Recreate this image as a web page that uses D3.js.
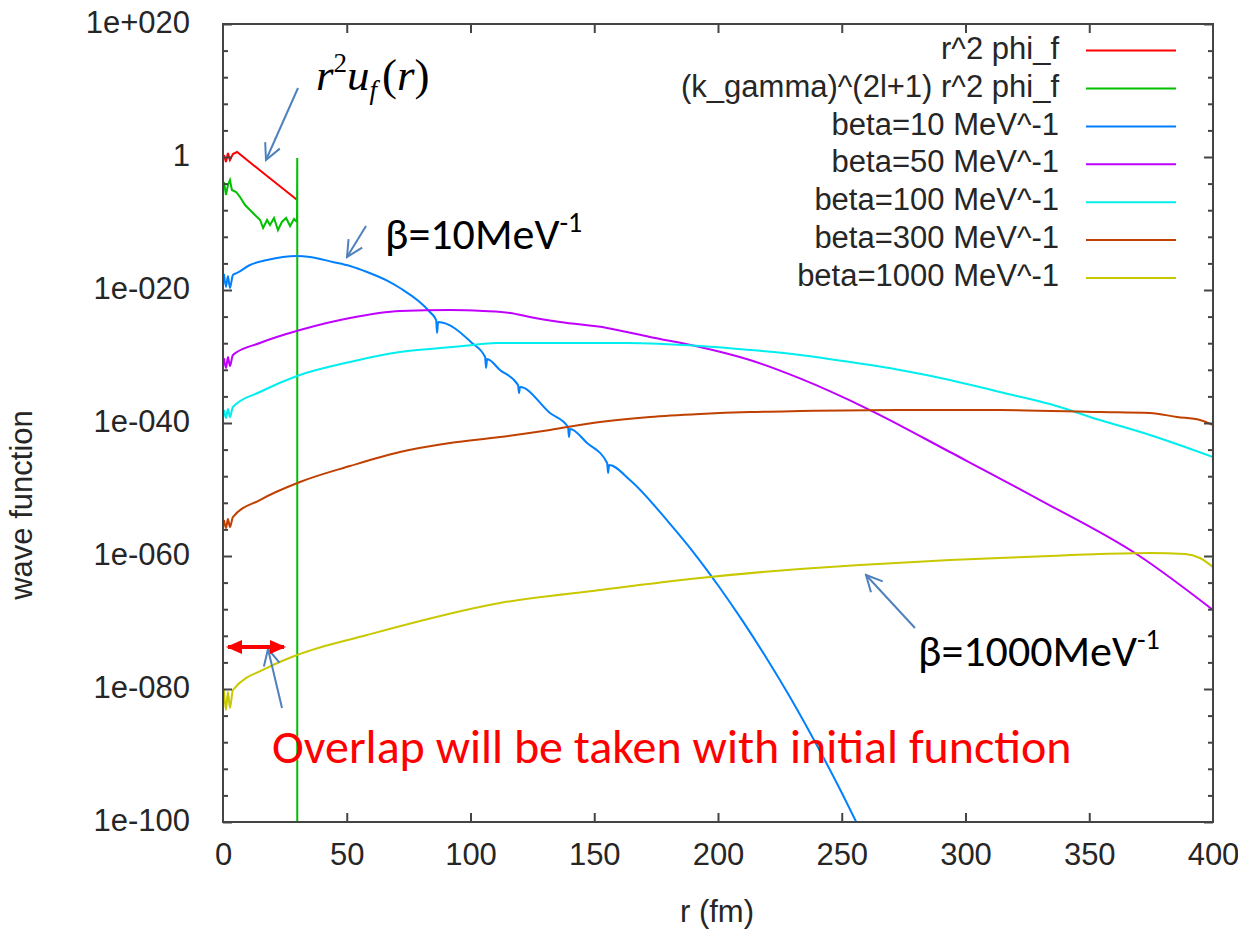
<!DOCTYPE html>
<html>
<head>
<meta charset="utf-8">
<script src="https://cdn.jsdelivr.net/npm/d3@7"></script>
<style>
  html, body { margin: 0; padding: 0; background: #fff; }
  svg { display: block; }
</style>
</head>
<body>
<script>
// ---------------- DATA (y stored as log10 of the value) ----------------
const xTickValues = [0, 50, 100, 150, 200, 250, 300, 350, 400];
const yTickExps = [20, 0, -20, -40, -60, -80, -100];
const yTickLabels = ["1e+020", "1", "1e-020", "1e-040", "1e-060", "1e-080", "1e-100"];
const seriesNames = ["r^2 phi_f", "(k_gamma)^(2l+1) r^2 phi_f", "beta=10 MeV^-1", "beta=50 MeV^-1",
                     "beta=100 MeV^-1", "beta=300 MeV^-1", "beta=1000 MeV^-1"];
const seriesColors = ["#ff0000", "#00c000", "#0080ff", "#c000ff", "#00eeee", "#c04000", "#c8c800"];

const redR   = [0.4, 1.2, 2.0, 2.8, 4.0, 5.7, 17.8, 30];
const redLog = [0.30, -0.75, 0.60, -0.45, 0.45, 0.75, -2.86, -6.47];

const greenR   = [0.4, 1.2, 2.0, 2.8, 3.6, 5.3, 6.9, 8.9, 10.9, 12.9, 15.0, 16.2, 17.8, 19.0, 20.6, 22.2, 23.8, 25.5, 27.1, 28.7, 29.9, 30, 30];
const greenLog = [-3.76, -5.71, -4.21, -3.46, -4.96, -5.26, -6.02, -7.22, -7.97, -8.72, -9.47, -10.68, -9.47, -10.23, -9.17, -10.98, -9.77, -9.17, -10.38, -9.32, -9.77, -0.15, -130];

const b10R   = [0.4, 1.2, 2.0, 2.8, 4.0, 5.7, 10.9, 17.8, 24.2, 29.9, 35.2, 44.4, 51.3, 58.2, 66.3, 71.5, 83.6, 86.1, 86.5, 86.9, 100.6, 105.9, 106.3, 106.7, 111.9, 119.2, 119.6, 120.0, 132.1, 139.4, 139.8, 140.2, 147.1, 155.2, 155.6, 156.0, 164.4, 180, 190, 200, 210, 220, 230, 240, 250, 256, 260];
const b10Log = [-17.59, -19.55, -17.89, -19.70, -17.74, -17.44, -16.24, -15.49, -15.04, -14.89, -15.04, -15.79, -16.40, -17.30, -18.60, -19.70, -23.31, -24.51, -26.47, -24.81, -27.97, -30.08, -31.73, -30.38, -32.03, -34.29, -35.49, -34.59, -38.50, -40.60, -42.11, -40.90, -43.01, -46.02, -47.52, -46.32, -48.57, -54.9, -59.4, -64.4, -69.8, -75.6, -81.8, -88.5, -95.6, -100.1, -103.2];

const b50R   = [0.4, 1.2, 2.0, 2.8, 4.0, 14.9, 31.1, 51.3, 71.5, 91.7, 105.1, 116.0, 124.0, 136.2, 155.2, 172.5, 192.7, 212.9, 233.1, 261.4, 293.7, 330.1, 369.7, 400];
const b50Log = [-30.23, -31.73, -30.08, -31.43, -29.77, -27.97, -26.02, -24.21, -23.16, -23.01, -23.16, -23.46, -24.06, -24.81, -25.71, -27.07, -28.57, -30.53, -33.30, -38.05, -44.36, -51.58, -59.85, -68.12];

const b100R   = [0.4, 1.2, 2.0, 2.8, 4.0, 14.9, 29.9, 51.3, 71.5, 87.7, 97.0, 110.7, 163.2, 192.7, 212.9, 233.1, 253.3, 273.5, 293.7, 313.9, 334.1, 354.3, 374.5, 400];
const b100Log = [-38.05, -39.25, -37.89, -39.10, -37.59, -35.34, -32.93, -30.83, -29.32, -28.72, -28.42, -27.97, -27.97, -28.42, -29.02, -29.77, -30.83, -32.03, -33.53, -35.34, -37.14, -39.55, -41.80, -45.11];

const b300R   = [0.4, 1.2, 2.0, 2.8, 4.0, 14.9, 31.1, 51.3, 71.5, 91.7, 111.9, 132.1, 152.3, 172.5, 192.7, 212.9, 233.1, 273.5, 313.9, 354.3, 374.5, 385.5, 394.7, 400];
const b300Log = [-54.59, -55.79, -54.44, -55.64, -54.14, -51.58, -48.87, -46.47, -44.36, -43.01, -42.11, -41.05, -39.85, -39.10, -38.65, -38.35, -38.20, -38.05, -38.05, -38.35, -38.50, -39.10, -39.55, -40.30];

const b1000R   = [0.4, 1.2, 2.0, 2.8, 4.0, 17.8, 29.9, 58.2, 111.9, 152.3, 192.7, 233.1, 257.4, 293.7, 334.1, 354.3, 374.5, 388.7, 394.7, 400];
const b1000Log = [-80.15, -83.16, -80.45, -82.86, -80.15, -76.84, -74.89, -71.88, -67.07, -65.11, -63.31, -61.95, -61.35, -60.60, -60.0, -59.70, -59.55, -59.70, -60.30, -61.65];

const seriesR   = [redR, greenR, b10R, b50R, b100R, b300R, b1000R];
const seriesLog = [redLog, greenLog, b10Log, b50Log, b100Log, b300Log, b1000Log];

// ---------------- LAYOUT ----------------
const W = 1238, H = 931;
const plot = { left: 223, right: 1213, top: 24, bottom: 822 };

const svg = d3.select("body").append("svg").attr("width", W).attr("height", H);

const x = d3.scaleLinear().domain([0, 400]).range([plot.left, plot.right]);
const y = d3.scaleLog().domain([1e-100, 1e20]).range([plot.bottom, plot.top]);

const pw = plot.right - plot.left, ph = plot.bottom - plot.top;

const defs = svg.append("defs");
defs.append("clipPath").attr("id", "clip")
  .append("rect").attr("x", plot.left).attr("y", plot.top).attr("width", pw).attr("height", ph);

const fontAxis = "'Liberation Sans', Arial, sans-serif";
const textCol = "#262626";
const fs = 31;

// ---------------- SERIES ----------------
const gLines = svg.append("g").attr("clip-path", "url(#clip)");
seriesNames.forEach((name, i) => {
  const pts = seriesR[i].map((r, j) => [r, Math.pow(10, seriesLog[i][j])]);
  const line = d3.line().x(d => x(d[0])).y(d => y(d[1]))
    .curve(i >= 2 ? d3.curveMonotoneX : d3.curveLinear);
  gLines.append("path").datum(pts)
    .attr("d", line)
    .attr("fill", "none")
    .attr("stroke", seriesColors[i])
    .attr("stroke-width", 2);
});

// ---------------- AXES ----------------
const majorY = yTickExps.map(e => Math.pow(10, e));
const minorY = d3.range(-100, 21, 4).filter(e => e % 20 !== 0).map(e => Math.pow(10, e));
const innerX = xTickValues.filter(v => v > 0 && v < 400);

function styleAxis(g) {
  g.select(".domain").remove();
  g.selectAll(".tick line").attr("stroke", "#444").attr("stroke-width", 2);
}

// inward ticks on all four sides
svg.append("g").attr("transform", `translate(${plot.left},0)`)
  .call(d3.axisRight(y).tickValues(majorY).tickSize(9).tickFormat("")).call(styleAxis);
svg.append("g").attr("transform", `translate(${plot.left},0)`)
  .call(d3.axisRight(y).tickValues(minorY).tickSize(5).tickFormat("")).call(styleAxis);
svg.append("g").attr("transform", `translate(${plot.right},0)`)
  .call(d3.axisLeft(y).tickValues(majorY).tickSize(9).tickFormat("")).call(styleAxis);
svg.append("g").attr("transform", `translate(${plot.right},0)`)
  .call(d3.axisLeft(y).tickValues(minorY).tickSize(5).tickFormat("")).call(styleAxis);
svg.append("g").attr("transform", `translate(0,${plot.bottom})`)
  .call(d3.axisTop(x).tickValues(innerX).tickSize(9).tickFormat("")).call(styleAxis);
svg.append("g").attr("transform", `translate(0,${plot.top})`)
  .call(d3.axisBottom(x).tickValues(innerX).tickSize(9).tickFormat("")).call(styleAxis);

// tick labels
const gyl = svg.append("g").attr("transform", `translate(${plot.left},0)`)
  .call(d3.axisLeft(y).tickValues(majorY).tickSize(0).tickFormat((d, i) => yTickLabels[i]));
gyl.select(".domain").remove();
gyl.selectAll("text").attr("text-anchor", "end").attr("x", 190 - plot.left)
  .attr("dy", null).attr("dominant-baseline", "middle")
  .attr("font-family", fontAxis).attr("font-size", fs).attr("fill", textCol);

const gxl = svg.append("g").attr("transform", `translate(0,${plot.bottom})`)
  .call(d3.axisBottom(x).tickValues(xTickValues).tickSize(0).tickFormat(d3.format("d")));
gxl.select(".domain").remove();
gxl.selectAll("text").attr("dy", null).attr("y", 35).attr("dominant-baseline", "middle")
  .attr("font-family", fontAxis).attr("font-size", fs).attr("fill", textCol);

// border
svg.append("rect").attr("x", plot.left).attr("y", plot.top).attr("width", pw).attr("height", ph)
  .attr("fill", "none").attr("stroke", "#444").attr("stroke-width", 2);

// axis titles
svg.append("text").attr("x", 717).attr("y", 914)
  .attr("text-anchor", "middle").attr("dominant-baseline", "middle")
  .attr("font-family", fontAxis).attr("font-size", fs).attr("fill", textCol).text("r (fm)");
svg.append("text").attr("transform", "translate(24,505) rotate(-90)")
  .attr("text-anchor", "middle").attr("dominant-baseline", "middle")
  .attr("font-family", fontAxis).attr("font-size", fs).attr("fill", textCol).text("wave function");

// ---------------- LEGEND ----------------
const legTop = 50.6, legStep = 37.9;
const gLeg = svg.append("g");
seriesNames.forEach((name, i) => {
  const yy = legTop + i * legStep;
  gLeg.append("text").attr("x", 1059).attr("y", yy)
    .attr("text-anchor", "end").attr("dominant-baseline", "middle")
    .attr("font-family", fontAxis).attr("font-size", fs).attr("fill", textCol).text(name);
  gLeg.append("line").attr("x1", 1086).attr("x2", 1176).attr("y1", yy).attr("y2", yy)
    .attr("stroke", seriesColors[i]).attr("stroke-width", 2);
});

// ---------------- ANNOTATIONS ----------------
const annBlue = "#4f81bd";
defs.append("marker").attr("id", "openHead").attr("viewBox", "0 0 20 20")
  .attr("refX", 18).attr("refY", 10).attr("markerWidth", 20).attr("markerHeight", 20)
  .attr("markerUnits", "userSpaceOnUse").attr("orient", "auto")
  .append("path").attr("d", "M2,2 L18,10 L2,18").attr("fill", "none")
  .attr("stroke", annBlue).attr("stroke-width", 2);
defs.append("marker").attr("id", "redHead").attr("viewBox", "0 0 16 16")
  .attr("refX", 14).attr("refY", 8).attr("markerWidth", 16).attr("markerHeight", 16)
  .attr("markerUnits", "userSpaceOnUse").attr("orient", "auto-start-reverse")
  .append("path").attr("d", "M0,1 L16,8 L0,15 Z").attr("fill", "#ff0000");

const arrows = [
  [298, 88, 266, 160],
  [366, 226, 347, 257],
  [915, 628, 866, 575],
  [282, 708, 268, 649]
];
arrows.forEach(a => {
  svg.append("line").attr("x1", a[0]).attr("y1", a[1]).attr("x2", a[2]).attr("y2", a[3])
    .attr("stroke", annBlue).attr("stroke-width", 2).attr("marker-end", "url(#openHead)");
});
svg.append("line").attr("x1", 228).attr("y1", 647).attr("x2", 284).attr("y2", 647)
  .attr("stroke", "#ff0000").attr("stroke-width", 4)
  .attr("marker-start", "url(#redHead)").attr("marker-end", "url(#redHead)");

// r^2 u_f(r)
const tf = svg.append("text").attr("x", 316).attr("y", 90)
  .attr("font-family", "'Liberation Serif', 'Times New Roman', serif").attr("font-size", 45).attr("fill", "#000");
tf.append("tspan").attr("font-style", "italic").text("r");
tf.append("tspan").attr("font-size", 27).attr("dy", -18).text("2");
tf.append("tspan").attr("font-style", "italic").attr("dy", 18).text("u");
tf.append("tspan").attr("font-style", "italic").attr("font-size", 27).attr("dy", 9).text("f");
tf.append("tspan").attr("dy", -9).attr("dx", 5).text("(");
tf.append("tspan").attr("font-style", "italic").text("r");
tf.append("tspan").text(")");

const annFont = "Carlito, Calibri, Lato, 'Liberation Sans', sans-serif";
function betaLabel(xx, yy, main) {
  const t = svg.append("text").attr("x", xx).attr("y", yy)
    .attr("font-family", annFont).attr("font-size", 44).attr("fill", "#000");
  t.append("tspan").text(main);
  t.append("tspan").attr("font-size", 28).attr("dy", -17).text("-1");
}
betaLabel(385, 249, "β=10MeV");
betaLabel(918, 666, "β=1000MeV");

svg.append("text").attr("x", 272).attr("y", 763)
  .attr("font-family", annFont).attr("font-size", 48).attr("fill", "#ff0000")
  .text("Overlap will be taken with initial function");
</script>
</body>
</html>
